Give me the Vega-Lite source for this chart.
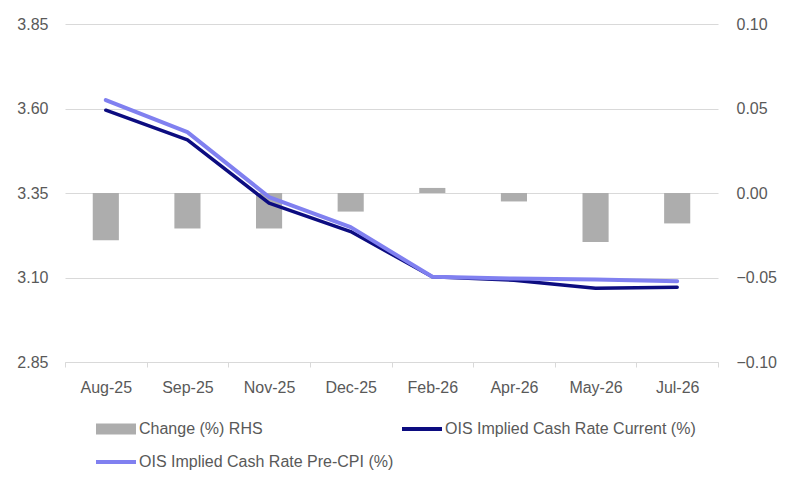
{
  "$schema": "https://vega.github.io/schema/vega-lite/v6.json",
  "width": 653,
  "height": 338,
  "autosize": {"type": "none"},
  "padding": {"left": 65, "top": 24, "right": 72, "bottom": 129},
  "background": "white",
  "config": {
    "view": {"stroke": null},
    "font": "Liberation Sans",
    "axis": {"labelFont": "Liberation Sans", "labelFontSize": 16, "labelColor": "#595959", "title": null},
    "legend": {"labelFont": "Liberation Sans", "labelFontSize": 16, "labelColor": "#595959"}
  },
  "datasets": {
    "bars": [
      {"month": "Aug-25", "change": -0.028},
      {"month": "Sep-25", "change": -0.021},
      {"month": "Nov-25", "change": -0.021},
      {"month": "Dec-25", "change": -0.011},
      {"month": "Feb-26", "change": 0.003},
      {"month": "Apr-26", "change": -0.005},
      {"month": "May-26", "change": -0.029},
      {"month": "Jul-26", "change": -0.018}
    ],
    "lines": [
      {"month": "Aug-25", "current": 3.595, "precpi": 3.625},
      {"month": "Sep-25", "current": 3.507, "precpi": 3.530},
      {"month": "Nov-25", "current": 3.320, "precpi": 3.338},
      {"month": "Dec-25", "current": 3.236, "precpi": 3.249},
      {"month": "Feb-26", "current": 3.102, "precpi": 3.102},
      {"month": "Apr-26", "current": 3.092, "precpi": 3.097},
      {"month": "May-26", "current": 3.068, "precpi": 3.094},
      {"month": "Jul-26", "current": 3.071, "precpi": 3.089}
    ]
  },
  "layer": [
    {
      "data": {"name": "bars"},
      "mark": {"type": "bar", "width": {"band": 0.32}},
      "encoding": {
        "x": {
          "field": "month", "type": "nominal", "sort": null,
          "scale": {"paddingInner": 0, "paddingOuter": 0},
          "axis": {"labelAngle": 0, "labelPadding": 12, "ticks": true, "tickBand": "extent", "tickSize": 5, "tickColor": "#D9D9D9", "domain": true, "domainColor": "#D9D9D9", "grid": false}
        },
        "y": {
          "field": "change", "type": "quantitative",
          "scale": {"domain": [-0.1, 0.1], "nice": false},
          "axis": {"orient": "right", "values": [-0.1, -0.05, 0, 0.05, 0.1], "format": ".2f", "grid": false, "domain": false, "ticks": false, "labelPadding": 18}
        },
        "color": {
          "datum": "Change (%) RHS",
          "scale": {
            "domain": ["Change (%) RHS", "OIS Implied Cash Rate Current (%)", "OIS Implied Cash Rate Pre-CPI (%)"],
            "range": ["#ADADAD", "#0C0C80", "#8080F0"]
          },
          "legend": {
            "title": null,
            "orient": "none",
            "direction": "horizontal",
            "legendX": 28,
            "legendY": 397,
            "columns": 2,
            "columnPadding": 0,
            "rowPadding": 17,
            "symbolSize": 1600,
            "symbolOffset": 15,
            "labelOffset": 15,
            "labelLimit": 400,
            "padding": 0,
            "encode": {
              "symbols": {
                "update": {
                  "shape": {"signal": "datum.value === 'Change (%) RHS' ? 'M-1,-0.275H1V0.275H-1Z' : 'stroke'"},
                  "strokeWidth": {"signal": "datum.value === 'Change (%) RHS' ? 0 : 4"},
                  "fill": {"scale": "color", "field": "value"},
                  "stroke": {"scale": "color", "field": "value"},
                  "fillOpacity": {"value": 1},
                  "opacity": {"value": 1}
                }
              }
            }
          }
        }
      }
    },
    {
      "data": {"name": "lines"},
      "layer": [
        {
          "mark": {"type": "line", "strokeWidth": 3.5, "strokeCap": "round", "strokeJoin": "round"},
          "encoding": {
            "x": {"field": "month", "type": "nominal", "sort": null},
            "y": {
              "field": "current", "type": "quantitative",
              "scale": {"domain": [2.85, 3.85], "nice": false, "zero": false},
              "axis": {"orient": "left", "values": [2.85, 3.1, 3.35, 3.6, 3.85], "format": ".2f", "grid": true, "gridColor": "#D9D9D9", "gridWidth": 1, "domain": false, "ticks": false, "labelPadding": 17}
            },
            "color": {"datum": "OIS Implied Cash Rate Current (%)"}
          }
        },
        {
          "mark": {"type": "line", "strokeWidth": 4, "strokeCap": "round", "strokeJoin": "round"},
          "encoding": {
            "x": {"field": "month", "type": "nominal", "sort": null},
            "y": {"field": "precpi", "type": "quantitative"},
            "color": {"datum": "OIS Implied Cash Rate Pre-CPI (%)"}
          }
        }
      ]
    }
  ],
  "resolve": {"scale": {"y": "independent"}}
}
